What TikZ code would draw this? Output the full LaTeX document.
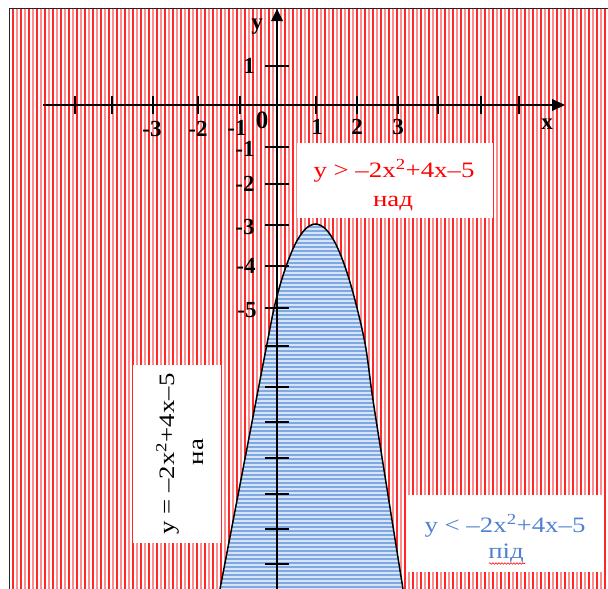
\documentclass[tikz,border=0pt]{standalone}
\usepackage{fontspec}
\setmainfont{Liberation Serif}
\newfontfamily\widefont[FakeStretch=1.22]{Liberation Serif}
\usetikzlibrary{decorations.pathmorphing}
\definecolor{stripered}{RGB}{255,40,40}
\definecolor{stripepink}{RGB}{255,140,140}
\definecolor{stripeblue}{RGB}{125,168,225}
\definecolor{stripelblue}{RGB}{215,228,246}
\definecolor{textblue}{RGB}{79,129,208}
\tikzset{
 axisline/.style={line width=1.7pt, black},
 tickline/.style={line width=1.7pt, black},
 lbl/.style={font=\fontsize{23}{25}\selectfont\bfseries, inner sep=0pt},
 whitebox/.style={fill=white, draw=none},
 boxtext/.style={font=\widefont\fontsize{22}{26}\selectfont, inner sep=0pt, anchor=base},
 curve/.style={line width=1.5pt, black},
}
\begin{document}
\begin{tikzpicture}[x=1pt,y=-1pt]
\useasboundingbox (0,0) rectangle (608,589);
\fill[white] (0,0) rectangle (608,589);
% red vertical hatching
\foreach \i in {0,...,148}{
  \pgfmathtruncatemacro\m{mod(\i,2)}
  \pgfmathsetmacro\xx{12+4*\i}
  \ifnum\m=1 \def\sc{stripepink}\else\def\sc{stripered}\fi
  \fill[color=\sc] (\xx,9) rectangle ({\xx+2},589);
}
% frame
\draw[black!85, line width=1.5pt] (9.5,589) -- (9.5,8.5) -- (608,8.5);
% blue region under parabola
\begin{scope}
\clip plot[smooth,tension=0.55] coordinates {(220,589) (243,469) (266,349) (275.5,302) (285.5,268) (295.5,243.5) (305.5,228.9) (315.5,224) (325.5,228.9) (335.5,243.5) (345.5,268) (355.5,302) (365.5,346) (373,400) (388,495) (403,589)} -- cycle;
\fill[stripelblue] (200,220) rectangle (420,589);
\foreach \j in {0,...,92}{
  \fill[stripeblue] (200,{222+4*\j}) rectangle (420,{224+4*\j});
}
\end{scope}
\draw[curve] plot[smooth,tension=0.55] coordinates {(220,589) (243,469) (266,349) (275.5,302) (285.5,268) (295.5,243.5) (305.5,228.9) (315.5,224) (325.5,228.9) (335.5,243.5) (345.5,268) (355.5,302) (365.5,346) (373,400) (388,495) (403,589)};
% axes
\draw[axisline] (43,105) -- (555,105);
\fill[black] (565,105) -- (552,99) -- (552,111) -- cycle;
\draw[axisline] (277,589) -- (277,18);
\fill[black] (277,9) -- (271,21) -- (283,21) -- cycle;
% ticks
\foreach \x in {75,112,153,198,240,316,357,398,438,481,519}
  \draw[tickline] (\x,96) -- (\x,114);
\foreach \y in {66,147,184,225,266,308,346,387,422,458,494,529,564}
  \draw[tickline] (265,\y) -- (289,\y);
% axis labels
\node[lbl] (xm3) at (152,129) {-3};
\node[lbl] (xm2) at (198,129) {-2};
\node[lbl] (xm1) at (237,128) {-1};
\node[lbl, font=\fontsize{25}{27}\selectfont\bfseries] (orig) at (262,120) {0};
\node[lbl] (xp1) at (317,127) {1};
\node[lbl] (xp2) at (357,127) {2};
\node[lbl] (xp3) at (398,127) {3};
\node[lbl] (xlab) at (547,124) {x};
\node[lbl] (yp1) at (249,66) {1};
\node[lbl] (ym1) at (245,149) {-1};
\node[lbl] (ym2) at (245,184) {-2};
\node[lbl] (ym3) at (245,227) {-3};
\node[lbl] (ym4) at (246,266) {-4};
\node[lbl] (ym5) at (247,310) {-5};
\node[lbl] (ylab) at (257,27) {y};
% text boxes
\fill[whitebox] (297,143) rectangle (493,218);
\node[boxtext, red] (gt1) at (394,177) {y > –2x\textsuperscript{2}+4x–5};
\node[boxtext, red] (gt2) at (393,206) {над};
\fill[whitebox] (133,365) rectangle (221,543);
\node[boxtext, rotate=90] (eq1) at (174,454) {y = –2x\textsuperscript{2}+4x–5};
\node[boxtext, rotate=90] (eq2) at (203,452) {на};
\fill[whitebox] (408,495) rectangle (602,572);
\node[boxtext, textblue] (lt1) at (505,532) {y < –2x\textsuperscript{2}+4x–5};
\node[boxtext, textblue] (lt2) at (506,558) {під};
\draw[red, line width=0.6pt, decorate, decoration={snake, amplitude=0.8pt, segment length=3pt}] (489,563.5) -- (525,563.5);
\end{tikzpicture}
\end{document}
